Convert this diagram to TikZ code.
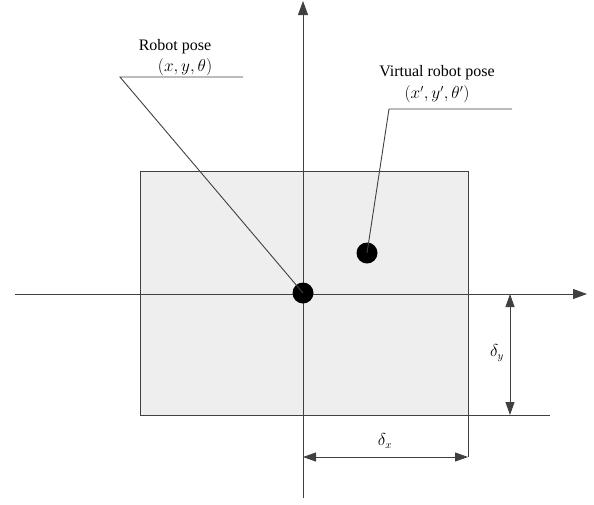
\documentclass[tikz,border=0pt]{standalone}
\usepackage{fontspec}
\setmainfont{Liberation Serif}
\usetikzlibrary{arrows.meta}
\begin{document}
\begin{tikzpicture}[x=1pt,y=-1pt,
  line/.style={draw=black!75,line width=0.9pt},
  arr/.style={line,-{Triangle[length=14pt,width=10pt]}},
  dim/.style={line,{Triangle[length=13pt,width=9pt]}-{Triangle[length=13pt,width=9pt]}},
  dot/.style={circle,fill=black,inner sep=0pt,minimum size=21pt},
  lbl/.style={font=\fontsize{16}{17}\selectfont,inner sep=0pt,align=center}]
\useasboundingbox (0,0) rectangle (594,504);
% shaded area
\fill[gray!13] (140,171) rectangle (468,415);
\draw[line] (140,415) -- (140,171) -- (468,171) -- (468,457);
\draw[line] (140,415) -- (550,415);
% axes
\coordinate (xs) at (15,294);
\coordinate (xe) at (587,294);
\coordinate (ys) at (303,498);
\coordinate (ye) at (303,1);
\draw[arr] (xs) -- (xe);
\draw[arr] (ys) -- (ye);
% dims
\coordinate (dy1) at (510,294);
\coordinate (dy2) at (510,415);
\draw[dim] (dy1) -- (dy2);
\node[lbl] (dylab) at (497,353) {$\delta_y$};
\coordinate (dx1) at (303,457);
\coordinate (dx2) at (468,457);
\draw[dim] (dx1) -- (dx2);
\node[lbl] (dxlab) at (385,441) {$\delta_x$};
% dots
\node[dot] (robot) at (303,293) {};
\node[dot] (virt) at (367,253) {};
% labels
\node[lbl] (rl) at (175,47) {Robot pose};
\node[lbl] (rl2) at (185,67) {$(x,y,\theta)$};
\coordinate (r1) at (120,77);
\coordinate (r2) at (243,77);
\draw[line] (r2) -- (r1) -- (robot.center);
\node[lbl] (vl) at (437,73) {Virtual robot pose};
\node[lbl] (vl2) at (437,94) {$\left(x',y',\theta'\right)$};
\coordinate (v1) at (389,109);
\coordinate (v2) at (512,109);
\draw[line] (v2) -- (v1) -- (virt.center);
\end{tikzpicture}
\end{document}
